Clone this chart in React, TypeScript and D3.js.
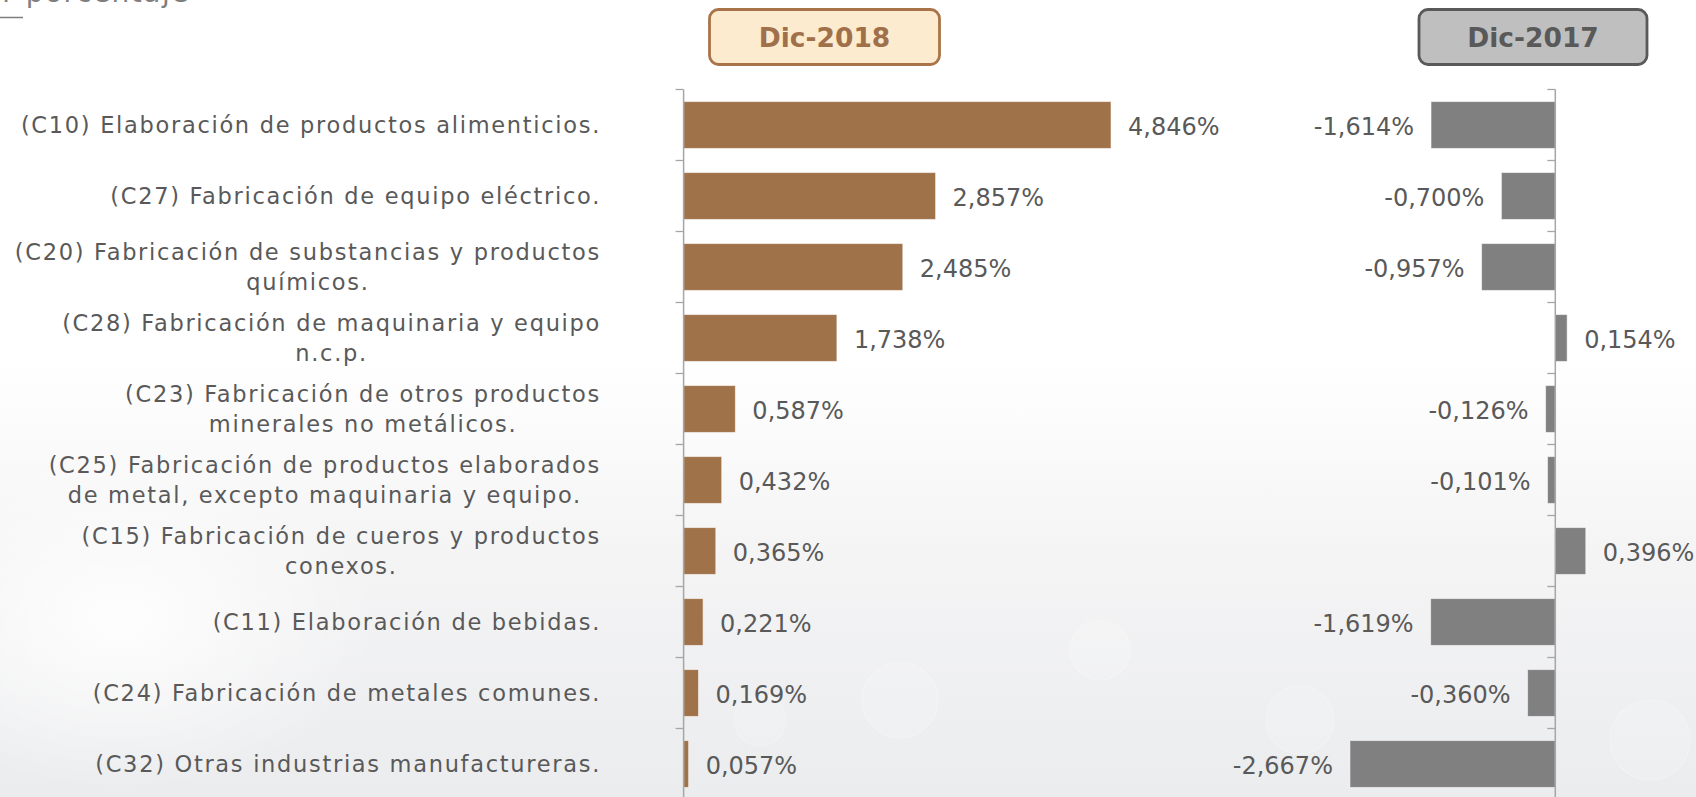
import React, { useEffect, useRef } from "react";
import * as d3 from "d3";

// ---------- data ----------
const categories: string[][] = [
  ["(C10) Elaboración de productos alimenticios."],
  ["(C27) Fabricación de equipo eléctrico."],
  ["(C20) Fabricación de substancias y productos", "químicos."],
  ["(C28) Fabricación de maquinaria y equipo", "n.c.p."],
  ["(C23) Fabricación de otros productos", "minerales no metálicos."],
  ["(C25) Fabricación de productos elaborados", "de metal, excepto maquinaria y equipo."],
  ["(C15) Fabricación de cueros y productos", "conexos."],
  ["(C11) Elaboración de bebidas."],
  ["(C24) Fabricación de metales comunes."],
  ["(C32) Otras industrias manufactureras."],
];
const values2018 = [4.846, 2.857, 2.485, 1.738, 0.587, 0.432, 0.365, 0.221, 0.169, 0.057];
const values2017 = [-1.614, -0.7, -0.957, 0.154, -0.126, -0.101, 0.396, -1.619, -0.36, -2.667];
const seriesNames = ["Dic-2018", "Dic-2017"];
const subtitle = "Variación por porcentaje";

const W = 1696;
const H = 797;
const FONT = "'DejaVu Sans', 'Noto Sans', sans-serif";
const fmt = (v: number) => d3.format(".3f")(v).replace(".", ",").replace("−", "-") + "%";

export default function App() {
  const ref = useRef<SVGSVGElement>(null);

  useEffect(() => {
    const svg = d3.select(ref.current!);
    svg.selectAll("*").remove();

    // background
    const defs = svg.append("defs");
    const g = defs.append("linearGradient").attr("id", "bg").attr("x1", 0).attr("y1", 0).attr("x2", 0).attr("y2", 1);
    g.append("stop").attr("offset", "0%").attr("stop-color", "#ffffff");
    g.append("stop").attr("offset", "45%").attr("stop-color", "#ffffff");
    g.append("stop").attr("offset", "70%").attr("stop-color", "#f4f4f5");
    g.append("stop").attr("offset", "100%").attr("stop-color", "#ebecee");
    const rg = defs.append("radialGradient").attr("id", "glow");
    rg.append("stop").attr("offset", "0%").attr("stop-color", "#ffffff").attr("stop-opacity", 0.9);
    rg.append("stop").attr("offset", "100%").attr("stop-color", "#ffffff").attr("stop-opacity", 0);
    svg.append("rect").attr("width", W).attr("height", H).attr("fill", "url(#bg)");
    svg.append("ellipse").attr("cx", 120).attr("cy", 620).attr("rx", 260).attr("ry", 170).attr("fill", "url(#glow)");
    const bokeh = [
      [900, 700, 38], [1100, 650, 30], [1300, 720, 34], [1650, 740, 40], [760, 720, 26], [1480, 620, 22],
    ];
    svg.append("g").selectAll("circle").data(bokeh).join("circle")
      .attr("cx", (d) => d[0]).attr("cy", (d) => d[1]).attr("r", (d) => d[2])
      .attr("fill", "#ffffff").attr("fill-opacity", 0.15)
      .attr("stroke", "#ffffff").attr("stroke-opacity", 0.25).attr("stroke-width", 1.2);

    // top-left cut subtitle
    svg.append("text").attr("x", 190).attr("y", 2).attr("text-anchor", "end")
      .attr("font-family", FONT).attr("font-size", 28).attr("letter-spacing", 1.5)
      .attr("fill", "#7f7f7f").text(subtitle);
    svg.append("line").attr("x1", 0).attr("x2", 23).attr("y1", 17.5).attr("y2", 17.5)
      .attr("stroke", "#7f7f7f").attr("stroke-width", 1.5);

    // scales
    const idx = d3.range(categories.length);
    const y = d3.scaleBand<number>().domain(idx).range([89.5, 799.5]).paddingInner(0.34).paddingOuter(0.17);
    const xL = d3.scaleLinear().domain([0, 5]).range([683.6, 683.6 + 5 * 88.2]);
    const xR = d3.scaleLinear().domain([-3, 1]).range([1555.3 - 3 * 77, 1555.3 + 77]);
    const boundary = (i: number) => y.range()[0] + i * y.step();

    // category labels
    const labelG = svg.append("g").attr("font-family", FONT).attr("font-size", 22.5)
      .attr("letter-spacing", 1.7).attr("fill", "#595959");
    const lineH = 30.5;
    categories.forEach((lines, i) => {
      const cy = y(i)! + y.bandwidth() / 2;
      const texts = lines.map((ln, k) =>
        labelG.append("text")
          .attr("y", cy + (k - (lines.length - 1) / 2) * lineH + 8.2)
          .text(ln)
      );
      if (lines.length === 1) {
        texts[0].attr("x", 601).attr("text-anchor", "end");
      } else {
        const widths = texts.map((t) => (t.node() as SVGTextElement).getComputedTextLength());
        const maxW = d3.max(widths)!;
        texts.forEach((t) => t.attr("x", 601 - maxW / 2).attr("text-anchor", "middle"));
      }
    });

    const drawPanel = (
      vals: number[],
      x: d3.ScaleLinear<number, number>,
      color: string
    ) => {
      const pg = svg.append("g");
      pg.selectAll("rect").data(vals).join("rect")
        .attr("x", (d) => Math.min(x(0), x(d)))
        .attr("y", (_, i) => y(i)!)
        .attr("width", (d) => Math.abs(x(d) - x(0)))
        .attr("height", y.bandwidth())
        .attr("fill", color)
        .attr("stroke", "#ffffff").attr("stroke-opacity", 0.55).attr("stroke-width", 1);
      // axis
      pg.append("line").attr("x1", x(0)).attr("x2", x(0)).attr("y1", boundary(0)).attr("y2", H + 10)
        .attr("stroke", "#a6a6a6").attr("stroke-width", 1.5);
      pg.selectAll("line.tick").data(d3.range(categories.length + 1)).join("line").attr("class", "tick")
        .attr("x1", x(0) - 8).attr("x2", x(0))
        .attr("y1", (i) => boundary(i)).attr("y2", (i) => boundary(i))
        .attr("stroke", "#a6a6a6").attr("stroke-width", 1.3);
      // value labels
      pg.selectAll("text").data(vals).join("text")
        .attr("font-family", FONT).attr("font-size", 24).attr("fill", "#595959")
        .attr("x", (d) => (d >= 0 ? x(d) + 17 : x(d) - 17))
        .attr("text-anchor", (d) => (d >= 0 ? "start" : "end"))
        .attr("y", (_, i) => y(i)! + y.bandwidth() / 2 + 9.5)
        .text((d) => fmt(d));
    };
    drawPanel(values2018, xL, "#a07249");
    drawPanel(values2017, xR, "#808080");

    // header boxes
    const boxes = [
      { name: seriesNames[0], x: 709.5, w: 230, fill: "#fdebd0", stroke: "#a97449", text: "#a0704a" },
      { name: seriesNames[1], x: 1419, w: 228, fill: "#bfbfbf", stroke: "#595959", text: "#595959" },
    ];
    boxes.forEach((b) => {
      svg.append("rect").attr("x", b.x).attr("y", 9.5).attr("width", b.w).attr("height", 55)
        .attr("rx", 9).attr("fill", b.fill).attr("stroke", b.stroke).attr("stroke-width", 2.8);
      svg.append("text").attr("x", b.x + b.w / 2).attr("y", 47).attr("text-anchor", "middle")
        .attr("font-family", FONT).attr("font-weight", "bold").attr("font-size", 26.5)
        .attr("fill", b.text).text(b.name);
    });
  }, []);

  return (
    <svg
      ref={ref}
      width={W}
      height={H}
      style={{ position: "absolute", left: 0, top: 0, display: "block", overflow: "hidden" }}
    />
  );
}
